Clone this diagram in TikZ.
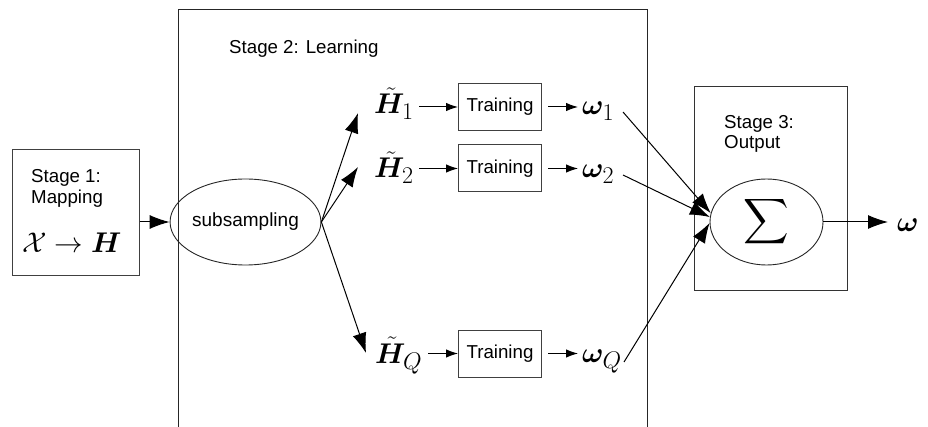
\RequirePackage{fix-cm}
\documentclass[tikz,border=0pt]{standalone}
\usepackage{amsmath,bm,graphicx}
\usepackage[no-math]{fontspec}
\newfontfamily\arial{Liberation Sans}
\DeclareMathSizes{28.5}{28.5}{24}{19}
\DeclareMathSizes{29}{29}{24}{19}
\usetikzlibrary{arrows.meta,shapes.geometric}
\tikzset{
  txt/.style={font=\arial\fontsize{18.7}{20.5}\selectfont, inner sep=0pt, align=left},
  mth/.style={font=\fontsize{28.5}{30}\selectfont, inner sep=0pt},
  frame/.style={draw=black!80, line width=1pt},
  trainbox/.style={draw=black!75, line width=1pt, minimum width=83pt, minimum height=47pt, inner sep=0pt, font=\arial\fontsize{18.7}{21}\selectfont},
  oval/.style={draw=black!85, line width=0.9pt, ellipse, inner sep=0pt},
  big/.style={line width=1pt, -{Latex[length=20pt,width=14pt]}},
  small/.style={line width=1pt, -{Latex[length=12pt,width=8.5pt]}},
}
\begin{document}
\begin{tikzpicture}[x=1pt,y=-1pt]
\useasboundingbox (0,0) rectangle (928,427);
% Stage 1
\node[frame, draw=black!75, minimum width=127pt, minimum height=126pt, inner sep=0pt] (st1) at (75.5,213) {};
\node[txt, anchor=base west] (st1t) at (31,203.5) {Stage 1:\\Mapping};
\node[mth, anchor=base] (map) at (72,253) {$\mathcal{X}\rightarrow\bm{H}$};
% Stage 2 frame (open at the bottom)
\coordinate (s2bl) at (178,427);
\coordinate (s2tl) at (178,10);
\coordinate (s2tr) at (647,10);
\coordinate (s2br) at (647,427);
\draw[line width=1pt, black!85] (s2bl) -- (s2tl) -- (s2tr) -- (s2br);
\node[txt, anchor=base west] (st2t) at (229,54) {Stage 2: Learning};
\node[oval, minimum width=131pt, minimum height=86pt, font=\arial\fontsize{19}{21}\selectfont] (sub) at (245.5,222) {subsampling};
% H tilde nodes
\node[mth, anchor=base west] (H1) at (374,114) {$\tilde{\bm{H}}_1$};
\node[mth, anchor=base west] (H2) at (374,178) {$\tilde{\bm{H}}_2$};
\node[mth, anchor=base west] (HQ) at (375,363) {$\tilde{\bm{H}}_Q$};
% training boxes
\node[trainbox] (T1) at (500,107) {Training};
\node[trainbox] (T2) at (500,168.5) {Training};
\node[trainbox] (TQ) at (500,353.5) {Training};
% omegas
\node[mth, anchor=base west] (w1) at (582,115) {$\bm{\omega}_1$};
\node[mth, anchor=base west] (w2) at (582,178) {$\bm{\omega}_2$};
\node[mth, anchor=base west] (wQ) at (582,362) {$\bm{\omega}_Q$};
% Stage 3
\node[frame, minimum width=153pt, minimum height=204pt, inner sep=0pt] (st3) at (770.5,189) {};
\node[txt, anchor=base west] (st3t) at (724,149) {Stage 3:\\Output};
\node[oval, minimum width=113pt, minimum height=86pt] (sig) at (766.5,222) {\fontsize{29}{31}\selectfont\scalebox{1.27}{$\displaystyle\sum$}};
\node[mth, anchor=base west] (w) at (897,232) {$\bm{\omega}$};
% connectors
\coordinate (t1) at (358,113);
\coordinate (t2) at (358,167);
\coordinate (tQ) at (366,353);
\draw[big] (st1.east |- sub.west) -- (sub.west);
\draw[big] (sub.east) -- (t1);
\draw[big] (sub.east) -- (t2);
\draw[big] (sub.east) -- (tQ);
\coordinate (h1e) at (419,107);
\coordinate (h2e) at (419,168.5);
\coordinate (hQe) at (428,353.5);
\draw[small] (h1e) -- (T1.west);
\draw[small] (h2e) -- (T2.west);
\draw[small] (hQe) -- (TQ.west);
\coordinate (w1s) at (578,107);
\coordinate (w2s) at (578,168.5);
\coordinate (wQs) at (578,353.5);
\draw[small] ([xshift=6pt]T1.east) -- (w1s);
\draw[small] ([xshift=6pt]T2.east) -- (w2s);
\draw[small] ([xshift=6pt]TQ.east) -- (wQs);
\coordinate (w1o) at (623,112);
\coordinate (w2o) at (623,175);
\coordinate (wQo) at (624,362);
\draw[big] (w1o) -- (sig.171);
\draw[big] (w2o) -- (sig.175);
\draw[big] (wQo) -- (sig.181);
\coordinate (wt) at (888,222);
\draw[big] (sig.east) -- (wt);
\end{tikzpicture}
\end{document}
